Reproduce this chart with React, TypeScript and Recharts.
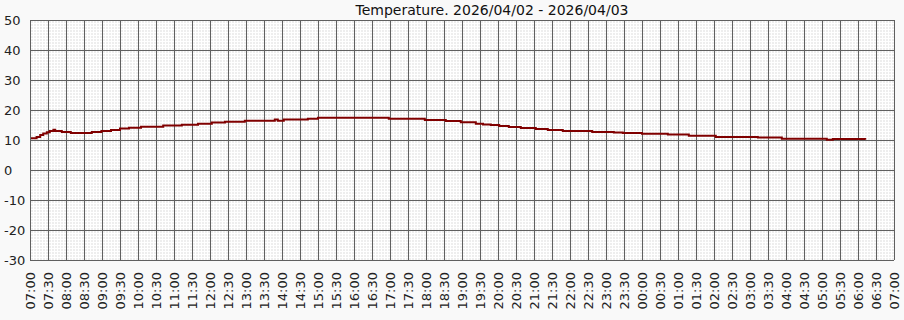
import React from 'react';
import { LineChart, Line, XAxis, YAxis, CartesianGrid } from 'recharts';

// minutes after 07:00 where the reading changes, and the reading from there on
const minutes = [
  0, 11, 17, 22, 28, 33, 39, 42, 53, 68, 103, 119, 135, 150, 165, 185, 222, 253, 280, 303,
  325, 358, 408, 413, 423, 463, 480, 598, 658, 693, 718, 743, 755, 768, 782, 798, 818, 843,
  863, 888, 937, 973, 988, 1020, 1063, 1098, 1143, 1213, 1253, 1328, 1338, 1392,
];
const temps = [
  10.6, 11.0, 11.7, 12.2, 12.6, 13.0, 13.4, 13.0, 12.7, 12.3, 12.7, 13.0, 13.3, 13.8, 14.1,
  14.4, 14.8, 15.1, 15.4, 15.8, 16.1, 16.4, 16.8, 16.4, 16.8, 17.1, 17.4, 17.1, 16.7, 16.3,
  15.9, 15.4, 15.2, 15.0, 14.7, 14.3, 14.0, 13.7, 13.3, 13.0, 12.7, 12.5, 12.3, 12.1, 11.8,
  11.4, 11.0, 10.8, 10.4, 10.1, 10.3, 10.1,
];

const timeLabels = [
  '07:00', '07:30', '08:00', '08:30', '09:00', '09:30', '10:00', '10:30', '11:00', '11:30',
  '12:00', '12:30', '13:00', '13:30', '14:00', '14:30', '15:00', '15:30', '16:00', '16:30',
  '17:00', '17:30', '18:00', '18:30', '19:00', '19:30', '20:00', '20:30', '21:00', '21:30',
  '22:00', '22:30', '23:00', '23:30', '00:00', '00:30', '01:00', '01:30', '02:00', '02:30',
  '03:00', '03:30', '04:00', '04:30', '05:00', '05:30', '06:00', '06:30', '07:00',
];
const yTicks = [-30, -20, -10, 0, 10, 20, 30, 40, 50];

const data = minutes.map((m, i) => ({ m, temp: temps[i] }));
const xTicks = timeLabels.map((_, i) => i * 30);

const FONT = '"DejaVu Sans", sans-serif';

const XTick = (props: any) => {
  const { x, payload } = props;
  const y = 272;
  return (
    <text
      x={x}
      y={y}
      transform={`rotate(-90, ${x}, ${y})`}
      textAnchor="end"
      dominantBaseline="central"
      fontSize={13}
      fontFamily={FONT}
      fill="#222"
    >
      {timeLabels[Math.round(payload.value / 30)]}
    </text>
  );
};

const YTick = (props: any) => {
  const { y, payload } = props;
  return (
    <text x={4} y={y} textAnchor="start" dominantBaseline="central" fontSize={13} fontFamily={FONT} fill="#222">
      {payload.value}
    </text>
  );
};

export default function App() {
  return (
    <div style={{ position: 'absolute', left: 0, top: 0, width: 904, height: 320, background: '#f9f9f9' }}>
      <style>{'.recharts-cartesian-grid line, .recharts-cartesian-axis-line { shape-rendering: crispEdges; }'}</style>
      <LineChart width={904} height={320} data={data} margin={{ top: 20, right: 10, bottom: 0, left: 0 }}>
        <defs>
          <pattern id="minorGrid" x={30} y={20} width={3} height={3} patternUnits="userSpaceOnUse">
            <rect width={3} height={3} fill="#eeeeee" />
            <rect width={3} height={1} fill="#ffffff" />
            <rect width={1} height={3} fill="#ffffff" />
          </pattern>
        </defs>
        <text x={492} y={10} textAnchor="middle" dominantBaseline="central" fontSize={14} fontFamily={FONT} fill="#111">
          Temperature. 2026/04/02 - 2026/04/03
        </text>
        <CartesianGrid stroke="#606060" strokeWidth={1} fill="url(#minorGrid)" fillOpacity={1} />
        <XAxis
          dataKey="m"
          type="number"
          domain={[0, 1440]}
          ticks={xTicks}
          interval={0}
          height={60}
          tickLine={false}
          axisLine={{ stroke: '#606060' }}
          tick={<XTick />}
        />
        <YAxis
          type="number"
          domain={[-30, 50]}
          ticks={yTicks}
          interval={0}
          width={30}
          tickLine={false}
          axisLine={{ stroke: '#606060' }}
          tick={<YTick />}
        />
        <Line
          type="stepAfter"
          dataKey="temp"
          stroke="#800000"
          strokeWidth={2}
          dot={false}
          isAnimationActive={false}
        />
      </LineChart>
    </div>
  );
}
